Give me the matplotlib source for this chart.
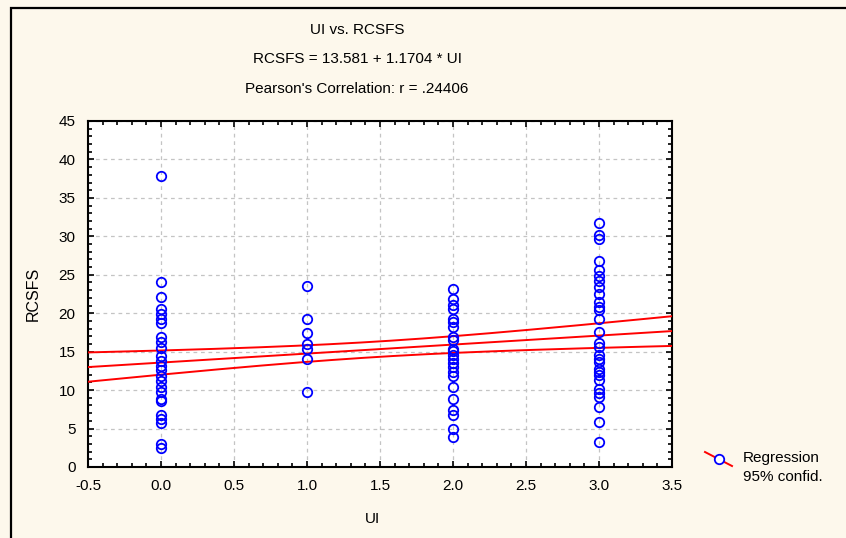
import numpy as np
import matplotlib
matplotlib.use("Agg")
import matplotlib.pyplot as plt
from matplotlib.patches import Rectangle
from matplotlib.lines import Line2D
from matplotlib.ticker import MultipleLocator

plt.rcParams['font.family'] = ['Liberation Sans', 'DejaVu Sans']

# RCSFS scores grouped by UI level
ui_levels = [0.0, 1.0, 2.0, 3.0]
rcsfs_ui0 = [37.8, 24.0, 22.1, 20.5, 19.9, 19.2, 18.7, 16.9, 16.2, 15.5, 14.5,
             13.8, 13.2, 12.6, 11.8, 11.2, 10.4, 9.8, 8.9, 8.6, 6.7, 6.3, 5.7,
             3.0, 2.5]
rcsfs_ui1 = [23.6, 19.2, 17.4, 16.0, 15.4, 14.1, 9.7]
rcsfs_ui2 = [23.1, 21.8, 21.1, 20.6, 19.2, 18.9, 18.2, 16.9, 16.5, 15.4, 15.1,
             14.6, 14.1, 13.5, 13.0, 12.4, 11.8, 10.4, 8.8, 7.4, 6.7, 5.0, 3.9]
rcsfs_ui3 = [31.7, 30.2, 29.6, 26.8, 25.6, 24.8, 24.2, 23.4, 22.5, 21.5, 20.8,
             20.4, 19.2, 17.6, 16.1, 15.6, 14.6, 14.1, 13.7, 12.8, 12.4, 12.0,
             11.3, 10.2, 9.6, 9.1, 7.8, 5.8, 3.3]

# regression summary (many observations overlap on the plot)
intercept = 13.581
slope = 1.1704
n_obs = 140
x_mean = 1.48
x_sd = 1.23
resid_sd = 6.0
t_crit = 1.977

title_lines = ["UI vs. RCSFS",
               "RCSFS = 13.581 + 1.1704 * UI",
               "Pearson's Correlation: r = .24406"]

groups = [rcsfs_ui0, rcsfs_ui1, rcsfs_ui2, rcsfs_ui3]
x = np.concatenate([[lvl] * len(g) for lvl, g in zip(ui_levels, groups)])
y = np.concatenate(groups)

bg = '#fdf8ec'
fig = plt.figure(figsize=(8.46, 5.38), dpi=100, facecolor=bg)
ax = fig.add_axes([88 / 846, 1 - 467 / 538, (672 - 88) / 846, (467 - 121) / 538])
ax.set_facecolor('white')

# fitted line with 95% confidence band for the mean response
xs = np.linspace(-0.5, 3.5, 200)
fit = intercept + slope * xs
sxx = (n_obs - 1) * x_sd ** 2
half = t_crit * resid_sd * np.sqrt(1 / n_obs + (xs - x_mean) ** 2 / sxx)

for curve in (fit, fit + half, fit - half):
    ax.plot(xs, curve, color='#ff0000', lw=1.4, zorder=3)

ax.plot(x, y, linestyle='none', marker='o', markersize=6.8,
        markerfacecolor='none', markeredgecolor='#0000ff', markeredgewidth=1.3,
        zorder=4)

ax.set_xlim(-0.5, 3.5)
ax.set_ylim(0, 45)
ax.xaxis.set_major_locator(MultipleLocator(0.5))
ax.xaxis.set_minor_locator(MultipleLocator(0.1))
ax.yaxis.set_major_locator(MultipleLocator(5))
ax.yaxis.set_minor_locator(MultipleLocator(1))
ax.set_xticklabels([f"{v:.1f}" for v in ax.get_xticks()])
ax.tick_params(which='both', direction='in', top=True, right=True,
               labelsize=11, colors='black', width=1.2)
ax.tick_params(which='major', length=4.5)
ax.tick_params(which='minor', length=3)
ax.tick_params(axis='x', which='major', pad=9)
ax.tick_params(axis='y', which='major', pad=9)
for sp in ax.spines.values():
    sp.set_linewidth(1.5)
    sp.set_color('black')
ax.grid(True, which='major', linestyle=(0, (3, 3)), color='#c4c4c4', lw=0.9)
ax.set_axisbelow(True)

ax.set_xlabel('UI', fontsize=11)
ax.xaxis.set_label_coords((372 - 88) / 584, -(512 - 467) / 346)
ax.set_ylabel('RCSFS', fontsize=11.5)
ax.yaxis.set_label_coords(-(88 - 41) / 584, 0.5)

cx = 357 / 846
for i, line in enumerate(title_lines):
    fig.text(cx, 1 - (30 + 29.5 * i) / 538, line, ha='center', va='center',
             fontsize=11)

# legend entry: red line through an open blue circle
lx0, ly0, lx1, ly1 = 705 / 846, 1 - 452 / 538, 732 / 846, 1 - 466 / 538
fig.add_artist(Line2D([lx0, lx1], [ly0, ly1], color='#ff0000', lw=1.4,
                      transform=fig.transFigure))
fig.add_artist(Line2D([(lx0 + lx1) / 2], [(ly0 + ly1) / 2], marker='o',
                      markersize=6.8, markerfacecolor='white',
                      markeredgecolor='#0000ff', markeredgewidth=1.3,
                      linestyle='none', transform=fig.transFigure))
fig.text(743 / 846, 1 - 458 / 538, 'Regression', ha='left', va='center',
         fontsize=11)
fig.text(743 / 846, 1 - 477 / 538, '95% confid.', ha='left', va='center',
         fontsize=11)

# outer frame
fig.add_artist(Rectangle((11 / 846, -0.05), 1.0, 1 - 8 / 538 + 0.05,
                         transform=fig.transFigure, fill=False,
                         edgecolor='black', lw=1.6))

fig.savefig('out.png', dpi=100, facecolor=bg)
